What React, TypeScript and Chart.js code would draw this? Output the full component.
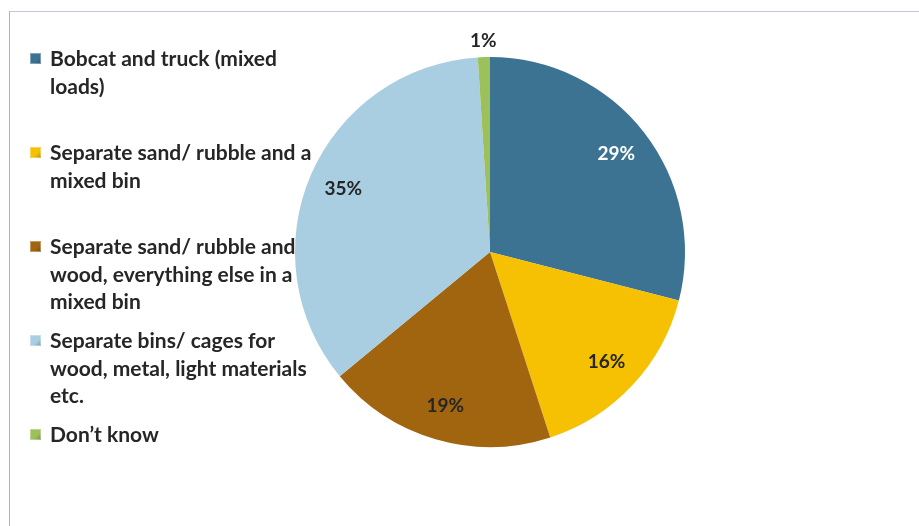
import React, { useEffect, useRef } from "react";
import { Chart, registerables } from "chart.js";

Chart.register(...registerables);

const categories = [
  "Bobcat and truck (mixed loads)",
  "Separate sand/ rubble and a mixed bin",
  "Separate sand/ rubble and wood, everything else in a mixed bin",
  "Separate bins/ cages for wood, metal, light materials etc.",
  "Don’t know",
];
const legendLines = [
  ["Bobcat and truck (mixed", "loads)"],
  ["Separate sand/ rubble and a", "mixed bin"],
  ["Separate sand/ rubble and", "wood, everything else in a", "mixed bin"],
  ["Separate bins/ cages for", "wood, metal, light materials", "etc."],
  ["Don’t know"],
];
const values = [29, 16, 19, 35, 1];
const colors = ["#3d7392", "#f6c103", "#a2650f", "#a9cde1", "#9cc05a"];
const labelColors = ["#ffffff", "#262626", "#262626", "#262626", "#262626"];

const FONT = "Lato, 'Open Sans', sans-serif";

const labelPlugin = {
  id: "sliceLabels",
  afterDatasetsDraw(chart: any) {
    const ctx = chart.ctx;
    const meta = chart.getDatasetMeta(0);
    ctx.save();
    ctx.font = `bold 19px ${FONT}`;
    ctx.textAlign = "center";
    ctx.textBaseline = "middle";
    meta.data.forEach((arc: any, i: number) => {
      const p = arc.getProps(["x", "y", "startAngle", "endAngle", "outerRadius"], true);
      const mid = (p.startAngle + p.endAngle) / 2;
      const outside = values[i] < 3;
      const r = outside ? p.outerRadius + 16 : p.outerRadius * 0.82;
      const tx = p.x + Math.cos(mid) * r;
      const ty = p.y + Math.sin(mid) * r;
      ctx.fillStyle = outside ? "#262626" : labelColors[i];
      ctx.fillText(values[i] + "%", tx, ty);
    });
    ctx.restore();
  },
};

export default function App() {
  const ref = useRef<HTMLCanvasElement>(null);
  useEffect(() => {
    if (!ref.current) return;
    const chart = new Chart(ref.current, {
      type: "pie",
      data: {
        labels: categories,
        datasets: [
          {
            data: values,
            backgroundColor: colors,
            borderWidth: 0,
          },
        ],
      },
      options: {
        animation: false,
        responsive: false,
        layout: { padding: { left: 295, right: 234, top: 57, bottom: 79 } },
        plugins: {
          legend: { display: false },
          tooltip: { enabled: false },
        },
      },
      plugins: [labelPlugin],
    });
    return () => chart.destroy();
  }, []);

  const itemCenters = [58, 152, 246, 340, 434];
  const lh = 27.5;

  return (
    <div
      style={{
        position: "fixed",
        left: 0,
        top: 0,
        width: 919,
        height: 526,
        overflow: "hidden",
        background: "#ffffff",
      }}
    >
      <div
        style={{
          position: "absolute",
          left: 9,
          top: 11,
          width: 940,
          height: 560,
          borderLeft: "1px solid #a9b0d6",
          borderTop: "1px solid #c4c4e0",
        }}
      />
      <canvas ref={ref} width={919} height={526} style={{ position: "absolute", left: 0, top: 0 }} />
      {legendLines.map((lines, i) => (
        <div
          key={i}
          style={{
            position: "absolute",
            left: 30,
            top: itemCenters[i] - lh / 2,
            fontFamily: FONT,
            fontWeight: 700,
            fontSize: 21,
            lineHeight: lh + "px",
            color: "#262626",
            whiteSpace: "nowrap",
          }}
        >
          <span
            style={{
              position: "absolute",
              left: 0,
              top: lh / 2 - 5.5,
              width: 11,
              height: 11,
              background: `linear-gradient(135deg, ${colors[i]} 0%, ${colors[i]} 60%, rgba(0,0,0,0.25) 100%), ${colors[i]}`,
              boxShadow: "inset 0 0 0 1px rgba(255,255,255,0.35)",
            }}
          />
          <div style={{ marginLeft: 20 }}>
            {lines.map((l, j) => (
              <div key={j}>{l}</div>
            ))}
          </div>
        </div>
      ))}
    </div>
  );
}
